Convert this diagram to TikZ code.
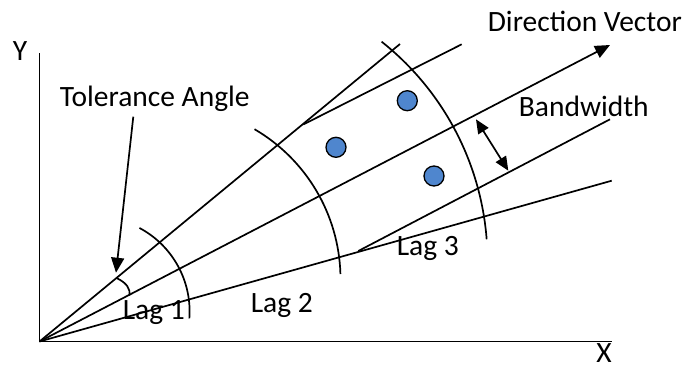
\documentclass[tikz,border=0pt]{standalone}
\usepackage{fontspec}
\setmainfont{Carlito}
\usetikzlibrary{arrows.meta}
\definecolor{dotblue}{RGB}{79,134,206}
\begin{document}
\begin{tikzpicture}[x=1pt,y=-1pt, line width=1.7pt,
  lbl/.style={anchor=base west, inner sep=0pt, font=\fontsize{29.5}{35}\selectfont},
  axlbl/.style={anchor=base, inner sep=0pt, font=\fontsize{29.5}{35}\selectfont},
  tipend/.style={-{Triangle[length=15pt,width=13pt]}},
  dtip/.style={{Triangle[length=14pt,width=12pt]}-{Triangle[length=14pt,width=12pt]}},
  dot/.style={circle, draw, fill=dotblue, line width=1.3pt, minimum size=20pt, inner sep=0pt},
  ]
\useasboundingbox (0,0) rectangle (685,370);
% key points
\coordinate (O) at (39.5,341.5);
\coordinate (Ytop) at (39.5,53);
\coordinate (Xend) at (611.7,341.5);
\coordinate (U) at (400,44);
\coordinate (D) at (610,45);
\coordinate (L) at (611.7,180.7);
\coordinate (UB1) at (303.3,124.5);
\coordinate (UB2) at (461.7,44.3);
\coordinate (LB1) at (358.3,251);
\coordinate (LB2) at (610,119.3);
\coordinate (BA1) at (476,119.3);
\coordinate (BA2) at (508.3,170.7);
\coordinate (TA1) at (133.3,116.7);
\coordinate (TA2) at (116,272.7);
\coordinate (AA1) at (116.5,278);
\coordinate (AA2) at (129.5,295.5);
\coordinate (C1) at (95.1,311.4);
\coordinate (C2) at (167,279);
\coordinate (C3) at (208,260.7);
% axes
\draw (Ytop) -- (O) -- (Xend);
% tolerance lines and direction vector
\draw (O) -- (U);
\draw (O) -- (L);
\draw[tipend] (O) -- (D);
% bandwidth lines
\draw (UB1) -- (UB2);
\draw (LB1) -- (LB2);
% lag arcs
\draw (C1) ++(-62:94.5) arc[start angle=-62, end angle=4.2, radius=94.5];
\draw (C2) ++(-59.7:173.5) arc[start angle=-59.7, end angle=-1.65, radius=173.5];
\draw (C3) ++(-51.6:279.5) arc[start angle=-51.6, end angle=-4.4, radius=279.5];
% tolerance angle mark
\draw (AA1) .. controls (127,283) and (130.5,289) .. (AA2);
% arrows
\draw[tipend] (TA1) -- (TA2);
\draw[dtip] (BA1) -- (BA2);
% dots
\node[dot] (p1) at (407.3,100.7) {};
\node[dot] (p2) at (336,147.3) {};
\node[dot] (p3) at (434,176) {};
% labels
\node[axlbl] (ylab) at (20,60.7) {Y};
\node[axlbl] (xlab) at (604,362.5) {X};
\node[lbl] (tol) at (59,106.7) {Tolerance Angle};
\node[lbl] (dir) at (487,31.7) {Direction Vector};
\node[lbl] (bw) at (518,116) {Bandwidth};
\node[lbl] (lag1) at (122,319.3) {Lag 1};
\node[lbl] (lag2) at (250,312.3) {Lag 2};
\node[lbl] (lag3) at (396,255) {Lag 3};
\end{tikzpicture}
\end{document}
